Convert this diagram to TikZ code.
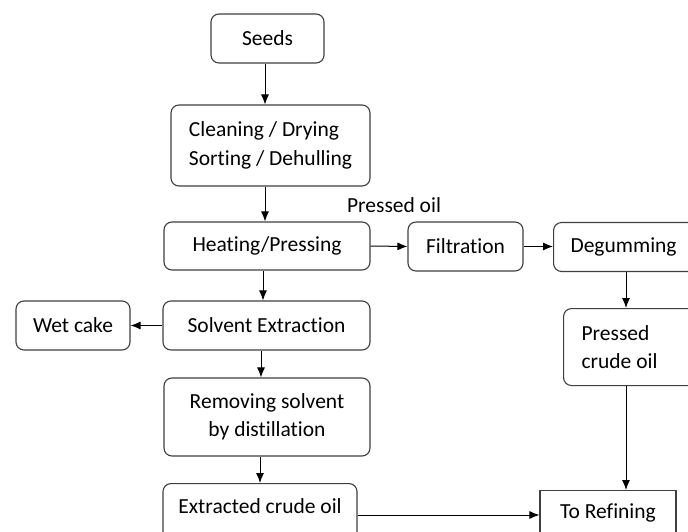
\documentclass[tikz,border=0pt]{standalone}
\usepackage{fontspec}
\setmainfont[Ligatures={NoCommon}]{Carlito}
\usetikzlibrary{arrows.meta}
\begin{document}
\begin{tikzpicture}[x=1pt,y=-1pt,
  box/.style={draw=black!75, line width=1.1pt, rounded corners=8pt, font=\fontsize{21.5}{28.5}\selectfont, inner sep=0pt},
  sqbox/.style={box, rounded corners=0pt},
  flow/.style={-{Latex[length=10pt,width=8pt]}, line width=1pt}]
\clip (0,0) rectangle (688,532);
\fill[white] (0,0) rectangle (688,532);

\node[box, minimum width=113, minimum height=49] (seeds) at (267.5,38.5) {Seeds};
\node[box, minimum width=199, minimum height=81, align=left] (clean) at (270.5,145.5) {Cleaning / Drying\\Sorting / Dehulling};
\node[box, minimum width=206, minimum height=48] (heat) at (267,246) {Heating/Pressing};
\node[box, minimum width=115, minimum height=49] (filt) at (465.5,246.5) {Filtration};
\node[box, anchor=west, inner xsep=17pt, text width=150pt, align=flush left, minimum height=49] (degum) at (553,247) {Degumming};
\node[box, anchor=north west, inner xsep=18pt, text width=150pt, align=flush left, minimum height=77] (pcrude) at (563,308) {Pressed\\crude oil};
\node[box, minimum width=207, minimum height=49] (solv) at (266.5,325.5) {Solvent Extraction};
\node[box, minimum width=114, minimum height=49] (wet) at (73,325.5) {Wet cake};
\node[box, minimum width=206, minimum height=78, align=center] (remov) at (267,417) {Removing solvent\\by distillation};
\node[box, anchor=north, minimum width=194, minimum height=64, text height=15pt, text depth=19pt] (extr) at (260,483) {Extracted crude oil};
\node[sqbox, anchor=north, minimum width=136, minimum height=64, text height=15pt, text depth=23pt] (refine) at (608,490) {To Refining};
\node[font=\fontsize{21.5}{24}\selectfont] (poil) at (394,205) {Pressed oil};

\draw[flow] (seeds.south -| 265,0) -- (clean.north -| 265,0);
\draw[flow] (clean.south -| 265,0) -- (heat.north -| 265,0);
\draw[flow] (heat.south -| 263,0) -- (solv.north -| 263,0);
\draw[flow] (solv.south -| 261,0) -- (remov.north -| 261,0);
\draw[flow] (remov.south -| 260,0) -- (extr.north -| 260,0);
\draw[flow] (heat.east) -- (filt.west);
\draw[flow] (filt.east) -- (filt.east -| degum.west);
\draw[flow] (solv.west) -- (wet.east);
\draw[flow] (degum.south -| 626,0) -- (pcrude.north -| 626,0);
\draw[flow] (pcrude.south -| 626,0) -- (refine.north -| 626,0);
\draw[flow] (extr.east |- 0,515) -- (refine.west |- 0,515);
\end{tikzpicture}
\end{document}
